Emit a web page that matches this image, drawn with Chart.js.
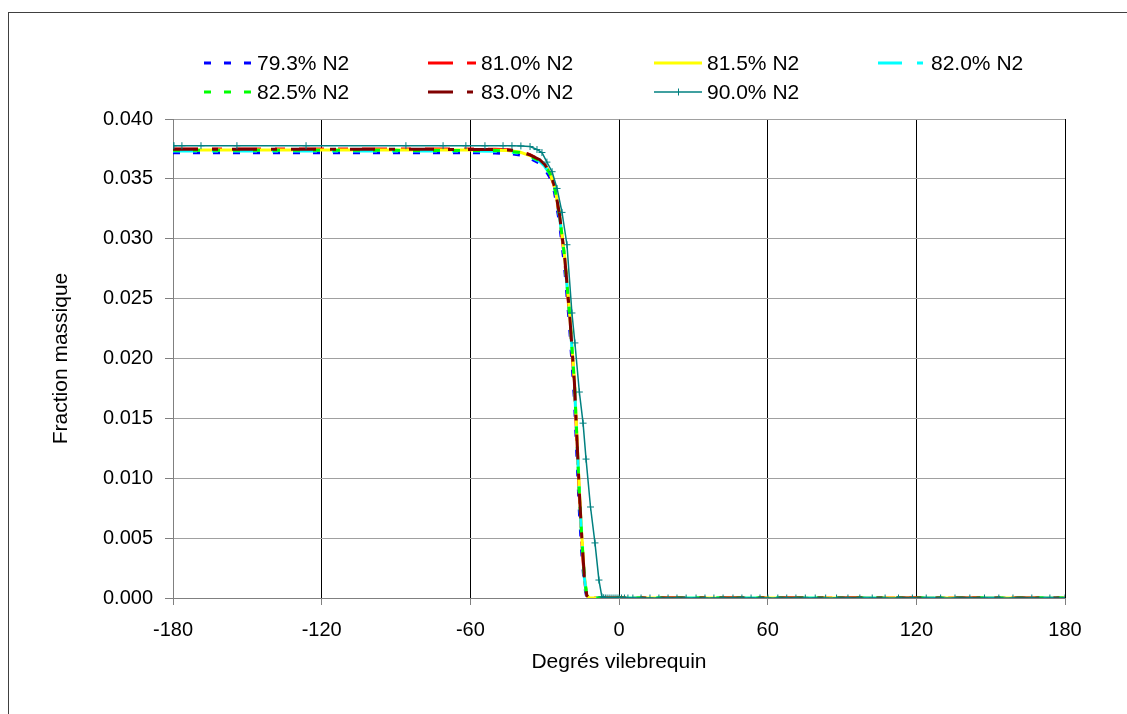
<!DOCTYPE html>
<html>
<head>
<meta charset="utf-8">
<script src="https://cdn.jsdelivr.net/npm/chart.js"></script>
<style>
  html, body { margin: 0; padding: 0; background: #fff; }
  canvas { display: block; }
</style>
</head>
<body>
<canvas id="chart" width="1127" height="714"></canvas>
<script>
// Degrés vilebrequin (common grid for the 79.3 - 83.0 % cases)
const angles = [-180, -150, -120, -90, -60, -50, -45, -40, -36, -32, -30, -28, -26, -24,
  -22, -20, -18, -16, -15, -14, -13, -12, 0, 60, 120, 180];

const n2_793 = [0.03719, 0.03719, 0.03719, 0.03719, 0.03718, 0.03716, 0.03712, 0.03700, 0.03672, 0.03630, 0.03585, 0.03515, 0.03385, 0.03130,
  0.02770, 0.02280, 0.01660, 0.00720, 0.00370, 0.00110, 0.00005, 0, 0, 0, 0, 0];
const n2_810 = [0.03750, 0.03750, 0.03750, 0.03750, 0.03749, 0.03748, 0.03744, 0.03731, 0.03702, 0.03660, 0.03618, 0.03555, 0.03430, 0.03185,
  0.02840, 0.02365, 0.01770, 0.00850, 0.00470, 0.00160, 0.00015, 0, 0, 0, 0, 0];
const n2_815 = [0.03742, 0.03742, 0.03742, 0.03742, 0.03741, 0.03740, 0.03736, 0.03724, 0.03695, 0.03655, 0.03615, 0.03555, 0.03438, 0.03200,
  0.02865, 0.02400, 0.01820, 0.00900, 0.00520, 0.00190, 0.00025, 0, 0, 0, 0, 0];
const n2_820 = [0.03733, 0.03733, 0.03733, 0.03733, 0.03732, 0.03731, 0.03727, 0.03715, 0.03686, 0.03646, 0.03605, 0.03545, 0.03425, 0.03185,
  0.02845, 0.02375, 0.01790, 0.00870, 0.00490, 0.00170, 0.00018, 0, 0, 0, 0, 0];
const n2_825 = [0.03738, 0.03738, 0.03738, 0.03738, 0.03737, 0.03736, 0.03732, 0.03720, 0.03691, 0.03651, 0.03610, 0.03550, 0.03432, 0.03195,
  0.02855, 0.02385, 0.01800, 0.00875, 0.00495, 0.00175, 0.00020, 0, 0, 0, 0, 0];
const n2_830 = [0.03747, 0.03747, 0.03747, 0.03747, 0.03746, 0.03745, 0.03742, 0.03730, 0.03700, 0.03660, 0.03620, 0.03560, 0.03440, 0.03200,
  0.02860, 0.02390, 0.01800, 0.00880, 0.00500, 0.00180, 0.00020, 0, 0, 0, 0, 0];

// 90 % case has its own (marked) points
const angles90 = [-180, -179.6, -176.4, -168.7, -154.2, -126.3, -86.0, -71.0, -61.8, -54.1,
  -46.8, -43.2, -39.6, -35.9, -33.1, -31.1, -29.1, -27.0, -25.0, -23.0,
  -21.0, -19.0, -17.8, -16.0, -14.5, -13.3, -11.5, -9.7, -8.1, -6.9,
  -6.2, -5.5, -4.8, -4.0, -3.2, -2.4, -1.6, -0.8, 0, 1.0,
  2.2, 3.6, 5.6, 8.9, 12.5, 16.1, 19.8, 23.4, 27.1, 31.1,
  34.7, 38.3, 42.0, 46.0, 49.6, 53.3, 56.9, 60.1, 64.1, 67.7,
  71.4, 75.2, 79.2, 83.4, 87.8, 92.4, 97.2, 102.2, 107.4, 112.8,
  118.4, 124.0, 129.8, 135.6, 141.6, 147.5, 153.3, 159.0, 166.6, 173.9,
  180];
const n2_900 = [0.03777, 0.03777, 0.03777, 0.03777, 0.03777, 0.03777, 0.03777, 0.03777, 0.03777, 0.03777,
  0.03777, 0.03777, 0.03775, 0.03770, 0.03745, 0.03720, 0.03640, 0.03560, 0.03420, 0.03220,
  0.02950, 0.02380, 0.02130, 0.01720, 0.01460, 0.01160, 0.00760, 0.00460, 0.00150, 0.00010,
  0.00002, 0, 0, 0, 0, 0, 0, 0, 0, 0,
  0, 0, 0, 0, 0, 0, 0, 0, 0, 0,
  0, 0, 0, 0, 0, 0, 0, 0, 0, 0,
  0, 0, 0, 0, 0, 0, 0, 0, 0, 0,
  0, 0, 0, 0, 0, 0, 0, 0, 0, 0,
  0];

const xTicks = [-180, -120, -60, 0, 60, 120, 180];
const yTicks = [0, 0.005, 0.010, 0.015, 0.020, 0.025, 0.030, 0.035, 0.040];

const pts = (xs, ys) => xs.map((x, i) => ({x: x, y: ys[i]}));

const series = [
  {label: '79.3% N2', xs: angles,   ys: n2_793, color: '#0000ff', dash: [7, 13],          width: 3},
  {label: '81.0% N2', xs: angles,   ys: n2_810, color: '#ff0000', dash: [25, 14, 10, 14], width: 3},
  {label: '81.5% N2', xs: angles,   ys: n2_815, color: '#ffff00', dash: [],               width: 3},
  {label: '82.0% N2', xs: angles,   ys: n2_820, color: '#00ffff', dash: [24, 15, 6, 15],  width: 3},
  {label: '82.5% N2', xs: angles,   ys: n2_825, color: '#00ff00', dash: [7, 13],          width: 3},
  {label: '83.0% N2', xs: angles,   ys: n2_830, color: '#800000', dash: [25, 14, 6, 14],  width: 3},
  {label: '90.0% N2', xs: angles90, ys: n2_900, color: '#008080', dash: [],               width: 1.5, marker: true}
];

const datasets = series.map((s, i) => ({
  label: s.label,
  data: pts(s.xs, s.ys),
  borderColor: s.color,
  backgroundColor: s.color,
  borderWidth: s.width,
  borderDash: s.dash,
  pointRadius: s.marker ? 3.5 : 0,
  pointStyle: 'cross',
  pointBorderWidth: 1,
  pointBorderColor: s.color,
  tension: 0,
  fill: false,
  order: series.length - 1 - i
}));

// legend laid out as a grid, like the original
const legendSlots = [[204, 63], [428, 63], [654, 63], [878, 63], [204, 92], [428, 92], [654, 92]];
const gridLegend = {
  id: 'gridLegend',
  afterDraw(chart) {
    const ctx = chart.ctx;
    ctx.save();
    series.forEach((s, i) => {
      const [x0, y] = legendSlots[i];
      ctx.strokeStyle = s.color;
      ctx.lineWidth = s.width;
      ctx.setLineDash(s.dash);
      ctx.beginPath();
      ctx.moveTo(x0, y);
      ctx.lineTo(x0 + 48, y);
      ctx.stroke();
      ctx.setLineDash([]);
      if (s.marker) {
        ctx.lineWidth = 1;
        ctx.beginPath();
        ctx.moveTo(x0 + 24.5, y - 3.5);
        ctx.lineTo(x0 + 24.5, y + 3.5);
        ctx.stroke();
      }
      ctx.fillStyle = '#000';
      ctx.font = '21px "Liberation Sans", Arial, sans-serif';
      ctx.textBaseline = 'middle';
      ctx.textAlign = 'left';
      ctx.fillText(s.label, x0 + 53, y + 1);
    });
    ctx.restore();
  }
};

const outerFrame = {
  id: 'outerFrame',
  beforeDraw(chart) {
    const ctx = chart.ctx;
    ctx.save();
    ctx.fillStyle = '#fff';
    ctx.fillRect(0, 0, chart.width, chart.height);
    ctx.strokeStyle = '#404040';
    ctx.lineWidth = 1;
    ctx.strokeRect(8.5, 12.5, 1300, 900);
    ctx.restore();
  }
};

Chart.defaults.font.family = '"Liberation Sans", Arial, sans-serif';
Chart.defaults.font.size = 20;
Chart.defaults.color = '#000';

new Chart(document.getElementById('chart').getContext('2d'), {
  type: 'line',
  data: {datasets: datasets},
  options: {
    responsive: false,
    animation: false,
    devicePixelRatio: 1,
    layout: {padding: {left: 0, top: 119, right: 62, bottom: 0}},
    plugins: {
      legend: {display: false},
      tooltip: {enabled: false}
    },
    scales: {
      x: {
        type: 'linear',
        min: -180,
        max: 180,
        afterFit(scale) { scale.height = 116; },
        afterBuildTicks(scale) { scale.ticks = xTicks.map(v => ({value: v})); },
        ticks: {padding: 13, maxRotation: 0, callback: v => String(v)},
        grid: {
          color: c => c.index === 0 ? '#a0a0a0' : '#000',
          tickColor: '#808080',
          tickLength: 7,
          lineWidth: 1
        },
        border: {color: '#808080'},
        title: {display: true, text: 'Degrés vilebrequin', font: {size: 21}, padding: {top: 0, bottom: 39}}
      },
      y: {
        type: 'linear',
        min: 0,
        max: 0.04,
        afterFit(scale) { scale.width = 173; },
        afterBuildTicks(scale) { scale.ticks = yTicks.map(v => ({value: v})); },
        ticks: {padding: 12, callback: v => v.toFixed(3)},
        grid: {color: '#a0a0a0', tickColor: '#808080', tickLength: 8, lineWidth: 1},
        border: {color: '#808080'},
        title: {display: true, text: 'Fraction massique', font: {size: 21}, padding: {top: 49, bottom: 0}}
      }
    }
  },
  plugins: [outerFrame, gridLegend]
});
</script>
</body>
</html>
